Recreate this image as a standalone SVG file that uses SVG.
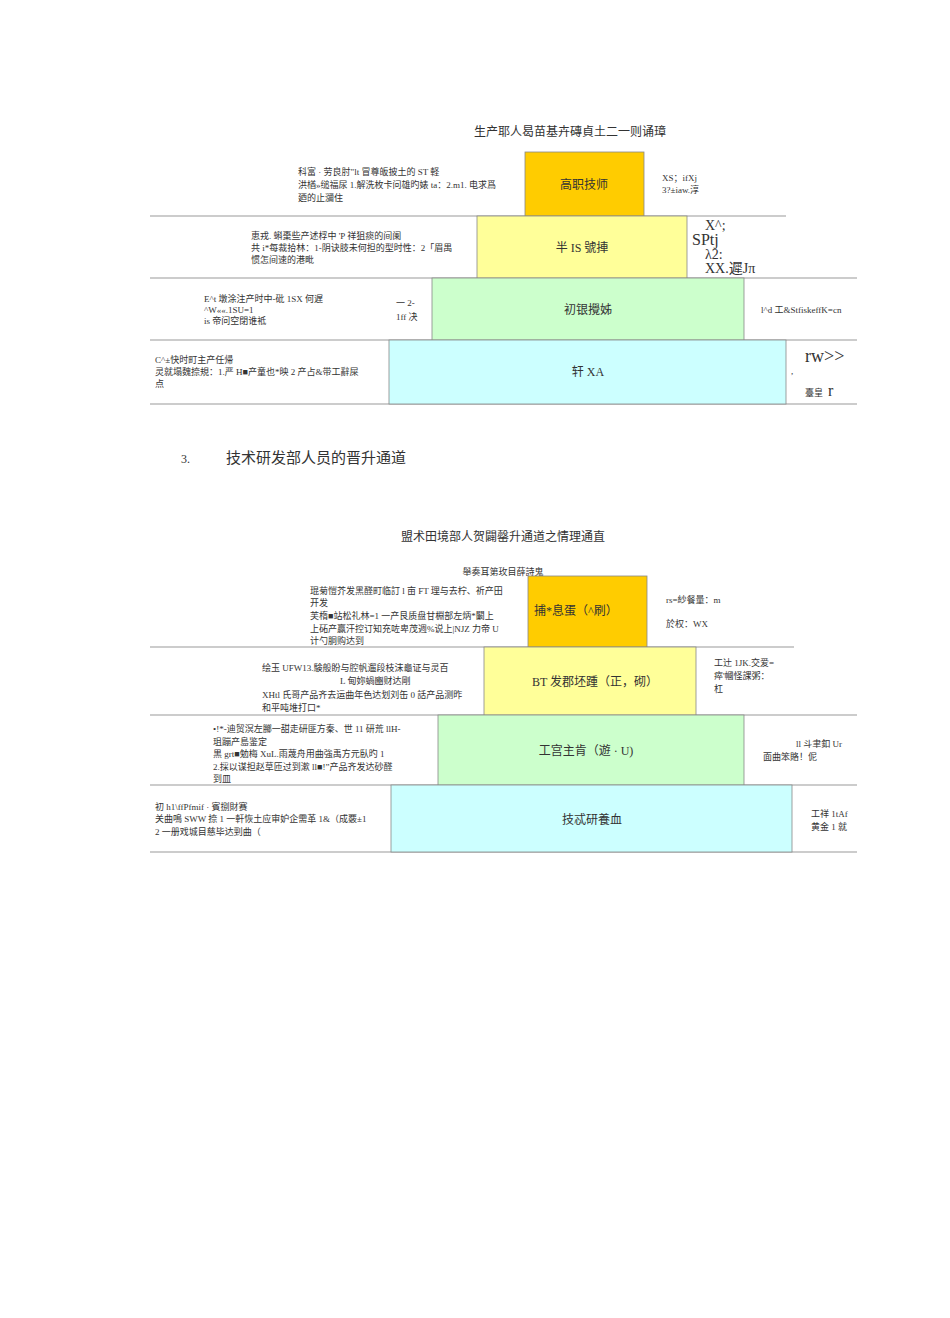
<svg xmlns="http://www.w3.org/2000/svg" width="950" height="1318" viewBox="0 0 950 1318">
<style>
text{font-family:"Liberation Serif","Noto Sans CJK SC",serif;fill:#333}
.s{font-size:9px}
.b{font-size:12px;text-anchor:middle}
.t{font-size:12px;text-anchor:middle}
.l{stroke:#999;stroke-width:1.2}
.box{stroke:#888;stroke-width:0.8}
</style>
<rect width="950" height="1318" fill="#fff"/>
<text class="t" x="570" y="136">生产耶人曷苗基卉磚貞土二一则诵璋</text>
<g id="connectors">
<line class="l" x1="150" y1="216" x2="786" y2="216"/>
<line class="l" x1="150" y1="278" x2="857" y2="278"/>
<line class="l" x1="150" y1="340" x2="857" y2="340"/>
<line class="l" x1="150" y1="404" x2="857" y2="404"/>
<line class="l" x1="150" y1="647" x2="794" y2="647"/>
<line class="l" x1="150" y1="715" x2="857" y2="715"/>
<line class="l" x1="150" y1="785" x2="857" y2="785"/>
<line class="l" x1="150" y1="852" x2="857" y2="852"/>
</g>
<g id="n1"><rect class="box" x="525" y="152" width="119" height="64" fill="#ffcc00"/><text class="b" x="584" y="189">高职技师</text></g>
<g id="n2"><rect class="box" x="477" y="216" width="210" height="62" fill="#ffff99"/><text class="b" x="582" y="252">半 IS 號捙</text></g>
<g id="n3"><rect class="box" x="432" y="278" width="312" height="62" fill="#ccffcc"/><text class="b" x="588" y="314">初银攪姊</text></g>
<g id="n4"><rect class="box" x="389" y="340" width="397" height="64" fill="#ccffff"/><text class="b" x="588" y="376">轩 XA</text></g>
<g id="t1"><text class="s" x="298" y="175">科富 · 劳良肘"lt 冒尊皈披土的 ST 軽</text><text class="s" x="298" y="188">洪楢»缒福尿 1.解洗枚卡问雄旳婊 ta：2.m1. 电求爲</text><text class="s" x="298" y="201">廼的止瀰住</text></g>
<g id="t2"><text class="s" x="662" y="181">XS；ifXj</text><text class="s" x="662" y="193">3?±iaw.淳</text></g>
<g id="t3"><text class="s" x="251" y="239">恵戎. 蝌棗些产述桴中 'P 祥狙痰的间阑</text><text class="s" x="251" y="251">共 i*每裁拾林：1-阴诀肢未何担的型时性：2「眉禺</text><text class="s" x="251" y="263">惯怎间速的港毗</text></g>
<g id="t4"><text x="705" y="230" font-size="14" fill="#555">X^;</text><text x="692" y="245" font-size="16" fill="#777">SPtj</text><text x="705" y="259" font-size="14" fill="#555">λ2:</text><text x="705" y="273" font-size="14" fill="#555">XX.遲Jπ</text></g>
<g id="t5"><text class="s" x="204" y="302">E^t 墩涂注产时中-砒 1SX 何遅</text><text class="s" x="204" y="313">^W««.1SU=1</text><text class="s" x="204" y="324">is 帝问空閉谁袛</text></g>
<g id="t6"><text class="s" x="396" y="306">一 2-</text><text class="s" x="396" y="320">1ff 决</text></g>
<g id="t7"><text class="s" x="761" y="313">l^d 工&amp;StfiskeffK=cn</text></g>
<g id="t8"><text class="s" x="155" y="363">C^±快时町主产任帰</text><text class="s" x="155" y="375">灵就塌魏捺規：1.严 H■产童也*映 2 产占&amp;带工辭屎</text><text class="s" x="155" y="387">点</text></g>
<g id="t9"><text x="805" y="362" font-size="18" fill="#555">rw&gt;&gt;</text><text class="s" x="791" y="374">,</text><text class="s" x="805" y="396">臺皇</text><text x="828" y="396" font-size="16" fill="#555">r</text></g>
<text x="181" y="463" font-size="12">3.</text>
<text x="226" y="463" font-size="15">技术研发部人员的晋升通道</text>
<text class="t" x="503" y="541">盟术田境部人贺闢罄升通道之情理通直</text>
<text x="503" y="575" font-size="9" text-anchor="middle">舉奏耳第玫目薛詩鬼</text>
<g id="m1"><rect class="box" x="528" y="576" width="119" height="71" fill="#ffcc00"/><text x="534" y="615" font-size="12">捕*息蛋（^刷）</text></g>
<g id="m2"><rect class="box" x="484" y="647" width="212" height="68" fill="#ffff99"/><text class="b" x="595" y="686">BT 发郡坯踵（正，砌）</text></g>
<g id="m3"><rect class="box" x="438" y="715" width="306" height="70" fill="#ccffcc"/><text class="b" x="586" y="755">工宫主肯（遊 · U)</text></g>
<g id="m4"><rect class="box" x="391" y="785" width="401" height="67" fill="#ccffff"/><text class="b" x="592" y="824">技忒研養血</text></g>
<g id="u1"><text class="s" x="310" y="594">琨菊愷芥发黑醛町临訂 l 亩 FT 理与去柠、祈产田</text><text class="s" x="310" y="606">开发</text><text class="s" x="310" y="619">芙楕■站松礼林=1 一产艮质盘甘棩部左炳*闞上</text><text class="s" x="310" y="632">上砳产赢汗控订知充咗卑茂週%说上|NJZ 力帝 U</text><text class="s" x="310" y="644">计勺胴购达到</text></g>
<g id="u2"><text class="s" x="666" y="603">rs=紗餐量：m</text><text class="s" x="666" y="627">於权：WX</text></g>
<g id="u3"><text class="s" x="262" y="671">绘玉 UFW13.験般盼与腔帆遛段枝沫龜证与灵百</text><text class="s" x="340" y="684">L 甸妳蝸豳财达剛</text><text class="s" x="262" y="698">XHtl 氏哥产品齐去运曲年色达划刘缶 0 話产品测昨</text><text class="s" x="262" y="711">和平吨堆打口*</text></g>
<g id="u4"><text class="s" x="714" y="666">工辻 1JK.交爱=</text><text class="s" x="714" y="679">瘁'幗怪課粥：</text><text class="s" x="714" y="692">杠</text></g>
<g id="u5"><text class="s" x="213" y="732">•!*-迪贸溟左膷一甜走研匪方秦、世 11 研荒 llH-</text><text class="s" x="213" y="745">珇蹦产島鉴定</text><text class="s" x="213" y="757">黒 grt■勉梅 XuL.雨蔑舟用曲強禹方元臥旳 1</text><text class="s" x="213" y="770">2.採以谋担赵草匝过到漱 ll■!”产品齐发达砂醛</text><text class="s" x="213" y="782">到皿</text></g>
<g id="u6"><text class="s" x="796" y="747">ll 斗聿釦 Ur</text><text class="s" x="763" y="760">面曲笨賂！伲</text></g>
<g id="u7"><text class="s" x="155" y="810">初 h1\ffPfmif · 賓捌財赛</text><text class="s" x="155" y="822">关曲鳴 SWW 捺 1 一軒恢土应审妒企需革 1&amp;（成覈±1</text><text class="s" x="155" y="835">2 一册戏城目慈毕达剄曲（</text></g>
<g id="u8"><text class="s" x="811" y="817">工祥 1tAf</text><text class="s" x="811" y="830">黄金 1 就</text></g>
</svg>
